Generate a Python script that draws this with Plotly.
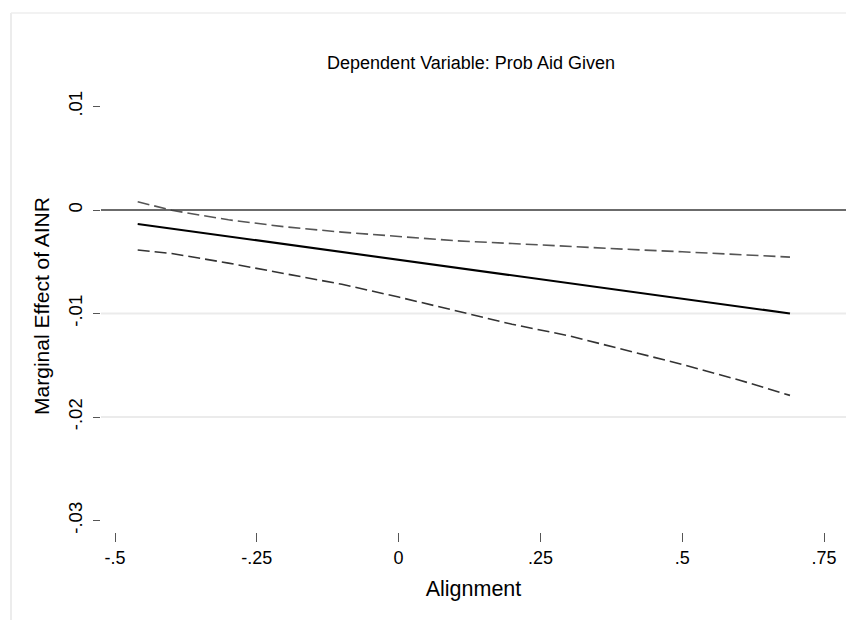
import plotly.graph_objects as go

alignment = [-0.46, -0.40, -0.30, -0.20, -0.10, 0.0, 0.10, 0.20, 0.30, 0.40, 0.50, 0.60, 0.69]
marginal_effect = [-0.00135, -0.00180, -0.00255, -0.00331, -0.00406, -0.00481, -0.00556,
                   -0.00632, -0.00707, -0.00782, -0.00857, -0.00933, -0.01000]
upper_ci = [0.00080, -0.00003, -0.00095, -0.00163, -0.00214, -0.00255, -0.00297,
            -0.00324, -0.00354, -0.00379, -0.00404, -0.00431, -0.00455]
lower_ci = [-0.00386, -0.00420, -0.00513, -0.00613, -0.00718, -0.00841, -0.00971,
            -0.01104, -0.01215, -0.01351, -0.01492, -0.01642, -0.01791]

x_ticks = [-0.5, -0.25, 0, 0.25, 0.5, 0.75]
x_tick_labels = ["-.5", "-.25", "0", ".25", ".5", ".75"]
y_ticks = [0.01, 0, -0.01, -0.02, -0.03]
y_tick_labels = [".01", "0", "-.01", "-.02", "-.03"]
grid_values = [-0.01, -0.02]

FONT = "Liberation Sans, Arial, Helvetica, sans-serif"

fig = go.Figure()

for v in grid_values:
    fig.add_hline(y=v, line=dict(color="#ebebeb", width=2), layer="below")
fig.add_hline(y=0, line=dict(color="#3a3a3a", width=1.6))

fig.add_trace(go.Scatter(x=alignment, y=upper_ci, mode="lines",
                         line=dict(color="#555555", width=1.6, dash="12px,5px"),
                         showlegend=False))
fig.add_trace(go.Scatter(x=alignment, y=lower_ci, mode="lines",
                         line=dict(color="#333333", width=1.6, dash="12px,5px"),
                         showlegend=False))
fig.add_trace(go.Scatter(x=alignment, y=marginal_effect, mode="lines",
                         line=dict(color="#000000", width=2.1),
                         showlegend=False))

# light gray frame of the original graph image
fig.add_shape(type="line", xref="paper", yref="paper", x0=-0.1208, x1=-0.1208,
              y0=-0.2, y1=1.1482, line=dict(color="#e6e6e6", width=1.5))
fig.add_shape(type="line", xref="paper", yref="paper", x0=-0.1208, x1=1.1,
              y0=1.1482, y1=1.1482, line=dict(color="#eeeeee", width=1.5))

fig.update_layout(
    width=846, height=620,
    margin=dict(l=101, r=0, t=80, b=88, autoexpand=False),
    paper_bgcolor="white", plot_bgcolor="white",
    font=dict(family=FONT, color="black"),
    title=dict(text="Dependent Variable: Prob Aid Given", x=471/846, xanchor="center",
               y=1 - 63/620, yanchor="middle", yref="container",
               font=dict(size=18, family=FONT, color="black")),
    xaxis=dict(range=[-0.52468, 0.78879], tickmode="array", tickvals=x_ticks,
               ticktext=x_tick_labels, ticks="outside", ticklen=9, tickwidth=1.3,
               tickcolor="#555555", showgrid=False, zeroline=False, showline=False,
               tickfont=dict(size=18, family=FONT, color="black"),
               title=dict(text="Alignment", font=dict(size=21.5, family=FONT, color="black"),
                          standoff=14)),
    yaxis=dict(range=[-0.031111, 0.012560], tickmode="array", tickvals=y_ticks,
               ticktext=y_tick_labels, ticks="outside", ticklen=7, tickwidth=1.3,
               tickcolor="#555555", showgrid=False, zeroline=False, showline=False,
               tickangle=-90, ticklabelstandoff=4,
               tickfont=dict(size=18.5, family=FONT, color="black"),
               title=dict(text="Marginal Effect of AINR",
                          font=dict(size=21, family=FONT, color="black"), standoff=9)),
)

fig.write_html("out.html")
